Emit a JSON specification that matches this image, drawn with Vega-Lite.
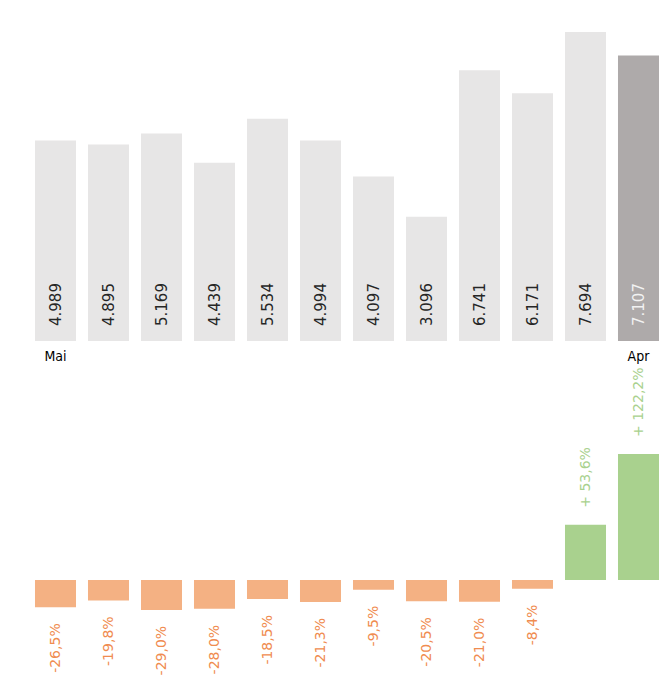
{
  "$schema": "https://vega.github.io/schema/vega-lite/v6.json",
  "padding": {"left": 29, "top": 0, "right": 0, "bottom": 0},
  "background": "white",
  "config": {
    "view": {"stroke": null},
    "font": "DejaVu Sans",
    "locale": {
      "number": {"decimal": ",", "thousands": ".", "grouping": [3], "currency": ["", " €"], "minus": "-"}
    }
  },
  "data": {
    "values": [
      {"month": "Mai", "value": 4989, "change": -0.265},
      {"month": "Jun", "value": 4895, "change": -0.198},
      {"month": "Jul", "value": 5169, "change": -0.290},
      {"month": "Aug", "value": 4439, "change": -0.280},
      {"month": "Sep", "value": 5534, "change": -0.185},
      {"month": "Okt", "value": 4994, "change": -0.213},
      {"month": "Nov", "value": 4097, "change": -0.095},
      {"month": "Dez", "value": 3096, "change": -0.205},
      {"month": "Jan", "value": 6741, "change": -0.210},
      {"month": "Feb", "value": 6171, "change": -0.084},
      {"month": "Mär", "value": 7694, "change": 0.536},
      {"month": "Apr", "value": 7107, "change": 1.222}
    ]
  },
  "spacing": 4,
  "vconcat": [
    {
      "width": 636,
      "height": 341,
      "encoding": {
        "x": {
          "field": "month", "type": "nominal", "sort": null,
          "scale": {"paddingInner": 0.226},
          "axis": {
            "title": null, "domain": false, "ticks": false, "labelAngle": 0,
            "labelPadding": 8, "labelFontSize": 14, "labelColor": "#000000",
            "labelFont": "DejaVu Sans Condensed",
            "labelExpr": "datum.value == 'Mai' || datum.value == 'Apr' ? datum.value : ''"
          }
        }
      },
      "layer": [
        {
          "mark": {"type": "bar"},
          "encoding": {
            "y": {"field": "value", "type": "quantitative", "scale": {"domain": [0, 8490], "nice": false}, "axis": null},
            "color": {"condition": {"test": "datum.month == 'Apr'", "value": "#aeaaaa"}, "value": "#e7e6e6"}
          }
        },
        {
          "mark": {"type": "text", "angle": -90, "align": "left", "baseline": "middle", "dx": 15, "fontSize": 15},
          "encoding": {
            "y": {"datum": 0, "type": "quantitative"},
            "text": {"field": "value", "type": "quantitative", "format": ",d"},
            "color": {"condition": {"test": "datum.month == 'Apr'", "value": "#f2f2f2"}, "value": "#262626"}
          }
        },
        {
          "mark": {"type": "rule", "stroke": "#767676", "strokeWidth": 3},
          "encoding": {"y": {"datum": 0, "type": "quantitative"}}
        }
      ]
    },
    {
      "width": 636,
      "height": 307,
      "encoding": {
        "x": {
          "field": "month", "type": "nominal", "sort": null,
          "scale": {"paddingInner": 0.226},
          "axis": null
        }
      },
      "layer": [
        {
          "mark": {"type": "bar"},
          "encoding": {
            "y": {"field": "change", "type": "quantitative", "scale": {"domain": [-0.941, 2.037], "nice": false}, "axis": null},
            "color": {"condition": {"test": "datum.change < 0", "value": "#f4b183"}, "value": "#a9d18e"}
          }
        },
        {
          "transform": [{"filter": "datum.change < 0"}],
          "mark": {"type": "text", "angle": -90, "align": "right", "baseline": "middle", "dx": -16, "fontSize": 14, "color": "#f08c50"},
          "encoding": {
            "y": {"field": "change", "type": "quantitative"},
            "text": {"field": "change", "type": "quantitative", "format": ".1%"}
          }
        },
        {
          "transform": [
            {"filter": "datum.change >= 0"},
            {"calculate": "'+ ' + format(datum.change, '.1%')", "as": "label"}
          ],
          "mark": {"type": "text", "angle": -90, "align": "left", "baseline": "middle", "dx": 17, "fontSize": 14, "color": "#a9d18e"},
          "encoding": {
            "y": {"field": "change", "type": "quantitative"},
            "text": {"field": "label", "type": "nominal"}
          }
        },
        {
          "mark": {"type": "rule", "stroke": "#767676", "strokeWidth": 3},
          "encoding": {"y": {"datum": 0, "type": "quantitative"}}
        }
      ]
    }
  ]
}
